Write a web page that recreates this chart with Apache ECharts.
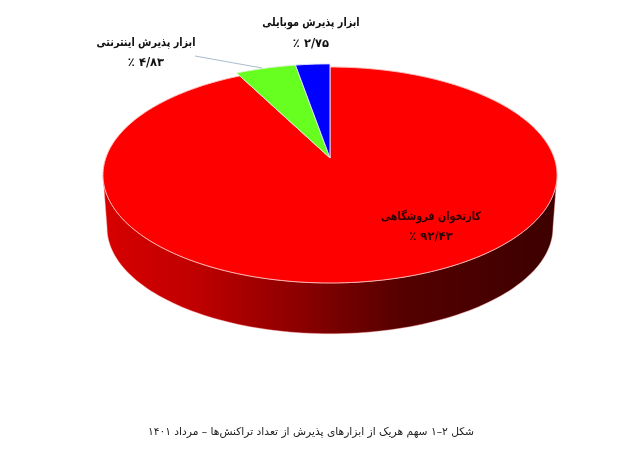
<!DOCTYPE html>
<html dir="rtl" lang="fa">
<head>
<meta charset="utf-8">
<style>html,body{margin:0;padding:0;background:#fff}#c{width:640px;height:454px}</style>
<script src="https://cdn.jsdelivr.net/npm/echarts@6/dist/echarts.min.js"></script>
</head>
<body>
<div id="c"></div>
<script>
var names = ['کارتخوان فروشگاهی', 'ابزار پذیرش اینترنتی', 'ابزار پذیرش موبایلی'];
var shares = [92.43, 4.83, 2.75];
var shareLabels = ['۹۲/۴۳ ٪', '۴/۸۳ ٪', '۲/۷۵ ٪'];
var caption = 'شکل ۲–۱ سهم هریک از ابزارهای پذیرش از تعداد تراکنش‌ها – مرداد ۱۴۰۱';

var total = shares.reduce(function (a, b) { return a + b; }, 0);
var colors = ['#ff0000', '#66ff1f', '#0000ff'];
var strokes = ['rgba(255,190,190,0.9)', 'rgba(225,240,215,0.9)', 'rgba(225,225,255,0.95)'];
var radial = [1, 1.04, 1.04];
var labelPos = [[431, 217, 237], [146, 43, 63], [311, 23, 44]];
var labelFill = ['#2a0000', '#111', '#111'];

// perspective projection of the pie's circular disc
var K = 0.1574, A = 224.2, B = 105.3, CX = 330, CY = 158;
function project(deg, r, scale, dy) {
  var t = deg * Math.PI / 180, s = scale || 1;
  var w = 1 + K * r * Math.cos(t);
  return [CX + s * A * r * Math.sin(t) / w, CY + (dy || 0) - s * B * r * Math.cos(t) / w];
}
function arc(from, to, r, scale, dy) {
  var pts = [], n = Math.max(2, Math.ceil(Math.abs(to - from) / 1.5));
  for (var i = 0; i <= n; i++) pts.push(project(from + (to - from) * i / n, r, scale, dy));
  return pts;
}
var EDGE = Math.acos(-K) * 180 / Math.PI;

function textEl(text, x, y, sx, size, fill) {
  return {
    type: 'text', x: x, y: y, scaleX: sx,
    style: { text: text, x: 0, y: 0, font: 'bold ' + size + 'px "DejaVu Sans"', fill: fill, align: 'center', verticalAlign: 'middle' }
  };
}

function renderSlice(params, api) {
  var i = params.dataIndex, start = 0;
  for (var j = 0; j < i; j++) start += shares[j] / total * 360;
  var end = start + api.value(0) / total * 360;
  var children = [];
  var a = Math.max(start, EDGE), b = Math.min(end, 360 - EDGE);
  if (b > a) {
    var topEdge = arc(a, b, radial[i]);
    var botEdge = arc(b, a, radial[i], 0.982, 53);
    children.push({
      type: 'polygon',
      shape: { points: topEdge.concat(botEdge) },
      style: {
        fill: new echarts.graphic.LinearGradient(0, 0, 1, 0, [
          { offset: 0, color: '#d80000' }, { offset: 0.2, color: '#c00000' },
          { offset: 0.44, color: '#8a0000' }, { offset: 0.52, color: '#750000' },
          { offset: 0.66, color: '#550000' }, { offset: 1, color: '#3c0000' }
        ]),
        stroke: 'rgba(255,170,170,0.55)', lineWidth: 0.8
      }
    });
  }
  var pts = [[CX, CY]].concat(arc(start, end, radial[i]));
  children.push({
    type: 'polygon', shape: { points: pts },
    style: { fill: colors[i], stroke: strokes[i], lineWidth: 1 }
  });
  if (i === 1) {
    children.push({
      type: 'line', shape: { x1: 195, y1: 56, x2: 262, y2: 68 },
      style: { stroke: '#a9bccf', lineWidth: 1 }
    });
  }
  children.push(textEl(names[i], labelPos[i][0], labelPos[i][1], 0.84, 11.5, labelFill[i]));
  children.push(textEl(shareLabels[i], labelPos[i][0], labelPos[i][2], 1, 11.5, labelFill[i]));
  return { type: 'group', children: children };
}

var chart = echarts.init(document.getElementById('c'), null, { renderer: 'canvas' });
chart.setOption({
  animation: false,
  backgroundColor: '#fff',
  title: {
    text: caption, left: 306, top: 422, textAlign: 'center',
    textStyle: { fontFamily: 'DejaVu Sans', fontSize: 10.7, fontWeight: 'normal', color: '#222' }
  },
  series: [{
    type: 'custom',
    coordinateSystem: 'none',
    renderItem: renderSlice,
    data: shares.map(function (v) { return [v]; })
  }]
});
</script>
</body>
</html>
